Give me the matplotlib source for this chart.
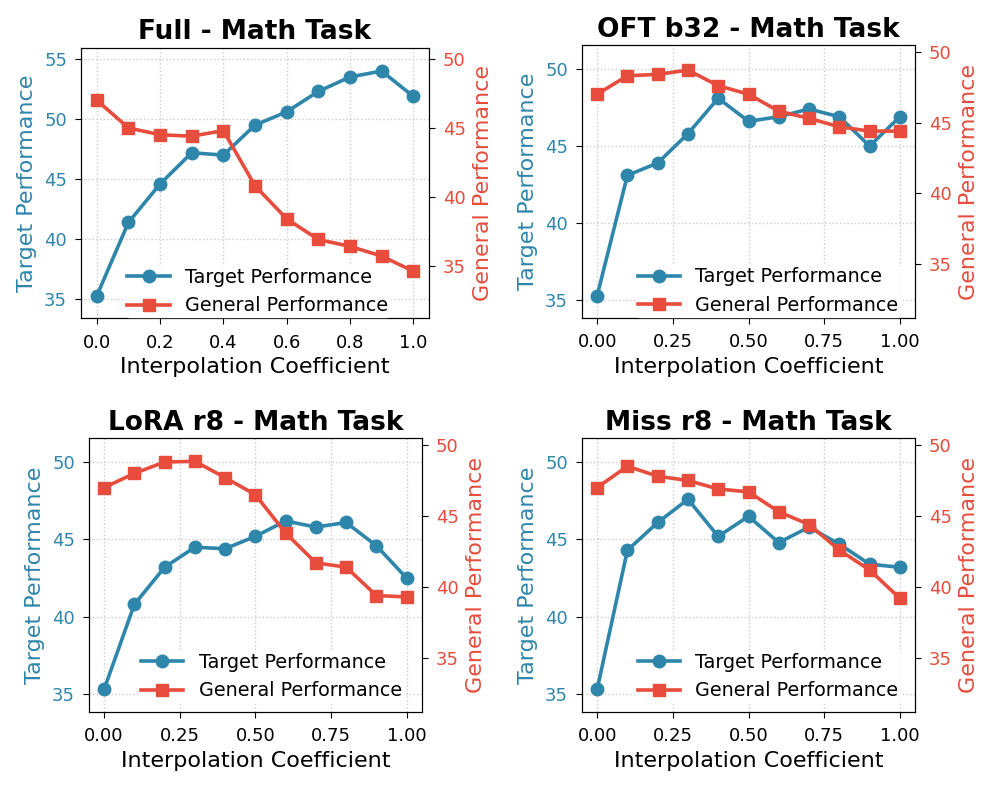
import matplotlib
matplotlib.use("Agg")
import matplotlib.pyplot as plt

# interpolation coefficients
coef = [0.0, 0.1, 0.2, 0.3, 0.4, 0.5, 0.6, 0.7, 0.8, 0.9, 1.0]

titles = ["Full - Math Task", "OFT b32 - Math Task", "LoRA r8 - Math Task", "Miss r8 - Math Task"]

full_target = [35.3, 41.4, 44.6, 47.2, 47.0, 49.5, 50.6, 52.3, 53.5, 54.0, 51.9]
full_general = [47.0, 45.0, 44.5, 44.4, 44.8, 40.8, 38.4, 36.9, 36.4, 35.7, 34.6]

oft_target = [35.3, 43.1, 43.9, 45.8, 48.1, 46.6, 46.9, 47.4, 46.9, 45.0, 46.9]
oft_general = [47.0, 48.3, 48.4, 48.7, 47.6, 47.0, 45.8, 45.3, 44.7, 44.4, 44.4]

lora_target = [35.3, 40.8, 43.2, 44.5, 44.4, 45.2, 46.2, 45.8, 46.1, 44.6, 42.5]
lora_general = [47.0, 48.0, 48.8, 48.85, 47.7, 46.5, 43.8, 41.7, 41.4, 39.4, 39.3]

miss_target = [35.3, 44.3, 46.1, 47.6, 45.2, 46.5, 44.8, 45.8, 44.7, 43.4, 43.2]
miss_general = [47.0, 48.5, 47.8, 47.5, 46.9, 46.7, 45.3, 44.4, 42.6, 41.2, 39.2]

targets = [full_target, oft_target, lora_target, miss_target]
generals = [full_general, oft_general, lora_general, miss_general]

blue = "#2E86AB"
red = "#E74C3C"

W, H = 996, 789
# axes boxes in pixels: left, right, top, bottom
boxes = [(81, 429, 47.7, 318.3), (582, 915, 45, 318),
         (89, 421.7, 438.3, 711.7), (582, 915, 438.3, 711.7)]
left_lims = [(33.42, 55.94), (33.85, 51.55), (33.85, 51.55), (33.85, 51.55)]
right_lims = [(31.18, 50.82), (31.22, 50.47), (31.22, 50.47), (31.22, 50.47)]
legend_locs = ["lower center", "lower right", "lower right", "lower right"]
legend_anchor = [(0.508, 0.004), (0.956, 0.004), (0.9456, 0.035), (0.956, 0.035)]

fig = plt.figure(figsize=(W / 100, H / 100), dpi=100)

for i in range(4):
    l, r, t, b = boxes[i]
    ax1 = fig.add_axes([l / W, 1 - b / H, (r - l) / W, (b - t) / H])
    ax2 = ax1.twinx()

    l1, = ax1.plot(coef, targets[i], color=blue, marker="o", markersize=9,
                   linewidth=2.6, label="Target Performance")
    l2, = ax2.plot(coef, generals[i], color=red, marker="s", markersize=8.5,
                   linewidth=2.6, label="General Performance")

    ax1.set_ylim(*left_lims[i])
    ax2.set_ylim(*right_lims[i])
    if i == 0:
        ax1.set_xticks([0.0, 0.2, 0.4, 0.6, 0.8, 1.0])
    else:
        ax1.set_xticks([0.0, 0.25, 0.5, 0.75, 1.0])
        ax1.set_xticklabels(["0.00", "0.25", "0.50", "0.75", "1.00"])

    ax1.grid(True, linestyle=":", color="#cccccc", linewidth=1.0)
    ax1.set_title(titles[i], fontsize=19, fontweight="bold")
    ax1.set_xlabel("Interpolation Coefficient", fontsize=16)
    ax1.set_ylabel("Target Performance", color=blue, fontsize=16, labelpad=5)
    ax2.set_ylabel("General Performance", color=red, fontsize=16, labelpad=5)
    ax1.tick_params(axis="y", labelcolor=blue, labelsize=13, length=4.5, pad=5.5)
    ax2.tick_params(axis="y", labelcolor=red, labelsize=13, length=4.5, pad=5.5)
    ax1.tick_params(axis="x", labelsize=13, length=4.5, pad=6.5)

    leg = ax2.legend([l1, l2], [l1.get_label(), l2.get_label()], loc=legend_locs[i],
                     bbox_to_anchor=legend_anchor[i],
                     fontsize=13.8, frameon=True, facecolor="white", edgecolor="white",
                     framealpha=1.0, borderaxespad=0.0, borderpad=0.1, handlelength=2.2)

fig.savefig("out.png", dpi=100)
